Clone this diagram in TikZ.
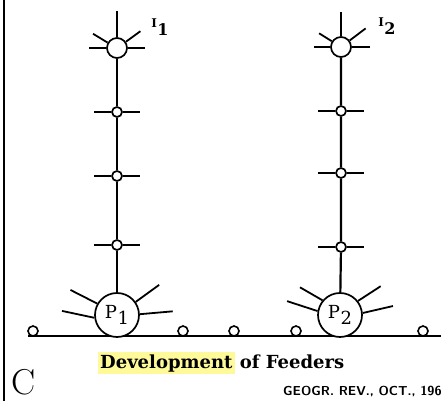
\documentclass[tikz,border=0pt]{standalone}
\usepackage{fontspec}
\newfontfamily\capfont{DejaVu Serif}
\usepackage{tikz}
\usetikzlibrary{positioning}
\newcommand{\sublabel}[5]{{\fontsize{#2}{#2}\selectfont #1}\kern0.5pt\raisebox{-#5}{\fontsize{#4}{#4}\selectfont #3}}

\begin{document}
\begin{tikzpicture}[x=1pt,y=1pt,
          every node/.style={inner sep=0pt},
          link/.style={line width=2.2pt},
          ray/.style={line width=1.8pt},
          hub/.style={circle,draw,line width=1.7pt,fill=white,minimum size=20pt},
          stop/.style={circle,draw,line width=1.7pt,fill=white,minimum size=10pt},
          port/.style={circle,draw,line width=1.7pt,fill=white,minimum size=44pt,font=\capfont},
          spot/.style={circle,draw,line width=1.6pt,fill=white,minimum size=10pt},
          tag/.style={font=\capfont\bfseries},
        ]
        \useasboundingbox (0,0) rectangle (443,401);
        \draw[line width=2.5pt] (4,0) -- (4,401);
        % ground line
        \coordinate (gl) at (28,65);
        \coordinate (gr) at (441,65);
        \draw[link] (gl) -- (gr);
        % first feeder
        \node[hub]  (i1) at (117,353) {};
        \node[stop] (a1) at (117,289) {};
        \node[stop] (a2) at (117,225) {};
        \node[stop] (a3) at (117,156) {};
        \node[port] (p1) at (117,86)  {\sublabel{P}{18}{1}{18}{6pt}};
        \node[tag] (l1) at (160,374) {\sublabel{I}{12}{1}{16}{8pt}};
        \draw[link] (i1) -- (a1) -- (a2) -- (a3) -- (p1);
        % second feeder
        \node[hub]  (i2) at (341,354) {};
        \node[stop] (b1) at (341,290) {};
        \node[stop] (b2) at (341,228) {};
        \node[stop] (b3) at (341,154) {};
        \node[port] (p2) at (340,86)  {\sublabel{P}{18}{2}{18}{6pt}};
        \node[tag] (l2) at (387,375) {\sublabel{I}{12}{2}{16}{8pt}};
        \draw[link] (i2) -- (b1) -- (b2) -- (b3) -- (p2);
        % spokes
        \foreach \n in {a1,a2,a3,b1,b2,b3}
          \draw[ray] (\n.west) -- +(-17,0) (\n.east) -- +(17,0);
        \draw[ray] (i1.north) -- +(0,26) (i1.150) -- +(149:17) (i1.35) -- +(36:18)
                   (i1.west) -- +(-17,0) (i1.east) -- +(17,0);
        \draw[ray] (i2.north) -- +(0,24) (i2.148) -- +(148:15) (i2.37) -- +(37:20)
                   (i2.west) -- +(-16,0) (i2.east) -- +(18,0);
        \draw[ray] (p1.150) -- +(153:30) (p1.187) -- +(168:33)
                   (p1.35) -- +(36:29) (p1.2) -- +(5:33);
        \draw[ray] (p2.140) -- +(150:26) (p2.170) -- +(162:32)
                   (p2.38) -- +(33:27) (p2.5) -- +(13:31);
        % small places on the ground line
        \foreach \x [count=\k] in {33,183,234,296,423}
          \node[spot] (s\k) at (\x,70) {};
        % captions
        \node[anchor=base west,fill=yellow!40,inner sep=2pt,font=\capfont\bfseries\fontsize{18}{20}\selectfont] (dev) at (98,33) {Development};
        \node[anchor=base west,font=\capfont\bfseries\fontsize{18}{20}\selectfont] (fee) at ([xshift=5pt]dev.base east) {of Feeders};
        \node[anchor=base west,font=\fontsize{36}{38}\selectfont] (c) at (11,7) {C};
        \node[anchor=base west,font=\sffamily\bfseries\fontsize{13}{15}\selectfont] (src) at (283,6) {GEOGR. REV., OCT., 196};
      \end{tikzpicture}
\end{document}
